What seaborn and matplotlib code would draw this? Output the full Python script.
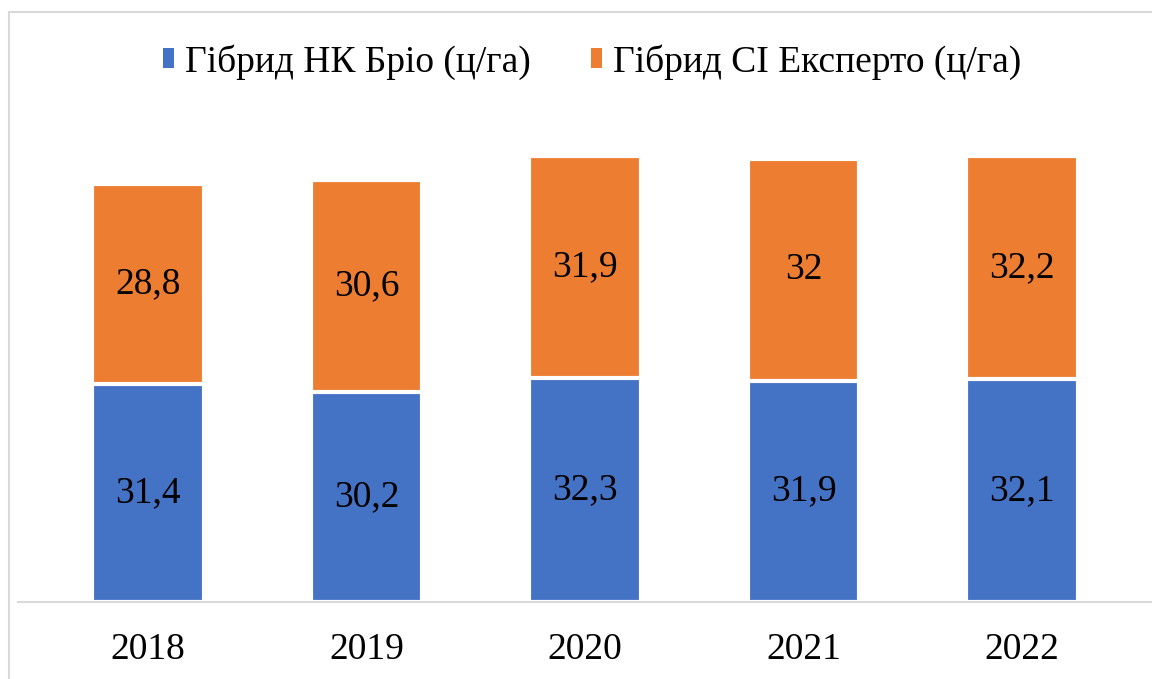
import numpy as np
import pandas as pd
import matplotlib
matplotlib.use("Agg")
import matplotlib.pyplot as plt
from matplotlib.patches import Patch, Rectangle
import seaborn as sns

years = ["2018", "2019", "2020", "2021", "2022"]
brio = [31.4, 30.2, 32.3, 31.9, 32.1]
experto = [28.8, 30.6, 31.9, 32.0, 32.2]
brio_labels = ["31,4", "30,2", "32,3", "31,9", "32,1"]
experto_labels = ["28,8", "30,6", "31,9", "32", "32,2"]
series_names = ["Гібрид НК Бріо (ц/га)", "Гібрид СІ Експерто (ц/га)"]

BLUE = "#4472C4"
ORANGE = "#ED7D31"

sns.set_theme(style="white")
plt.rcParams["font.family"] = ["Liberation Serif", "DejaVu Serif"]
plt.rcParams["text.color"] = "black"

df = pd.DataFrame({"year": years, "brio": brio, "experto": experto})
df["total"] = df["brio"] + df["experto"]

fig = plt.figure(figsize=(11.52, 6.79), dpi=100)
ax = fig.add_axes([18 / 1152, (679 - 602) / 679, 1 - 18 / 1152, 483 / 679])

# stacked bars: total (orange) underneath, blue on top of it
sns.barplot(data=df, x="year", y="total", color=ORANGE, saturation=1,
            width=0.51, edgecolor="white", linewidth=3, ax=ax)
sns.barplot(data=df, x="year", y="brio", color=BLUE, saturation=1,
            width=0.51, edgecolor="white", linewidth=3, ax=ax)

for i in range(len(years)):
    ax.text(i, brio[i] / 2, brio_labels[i], ha="center", va="center",
            fontsize=27, color="black")
    ax.text(i, brio[i] + experto[i] / 2, experto_labels[i], ha="center",
            va="center", fontsize=27, color="black")

ax.set_xlim(-0.595, 4.595)
ax.set_ylim(0, 69.6)
ax.set_xlabel("")
ax.set_ylabel("")
ax.set_yticks([])
ax.tick_params(axis="x", length=0, pad=22, labelsize=27, labelcolor="black")
for s in ["top", "right", "left"]:
    ax.spines[s].set_visible(False)
ax.spines["bottom"].set_color("#d9d9d9")
ax.spines["bottom"].set_linewidth(1.5)

handles = [Patch(facecolor=BLUE, edgecolor="none"),
           Patch(facecolor=ORANGE, edgecolor="none")]
fig.legend(handles, series_names, loc="center", ncol=2,
           bbox_to_anchor=(592 / 1152, 1 - 62 / 679), frameon=False,
           prop={"family": "Liberation Serif", "size": 27},
           labelcolor="black", handlelength=0.3, handleheight=0.45,
           handletextpad=0.3, columnspacing=1.6)

# chart area frame
fig.patches.append(Rectangle((9 / 1152, -0.1), 1.2, 1 - 12 / 679 + 0.1,
                             transform=fig.transFigure, fill=False,
                             edgecolor="#d9d9d9", linewidth=1.5))

fig.savefig("out.png", dpi=100, facecolor="white")
